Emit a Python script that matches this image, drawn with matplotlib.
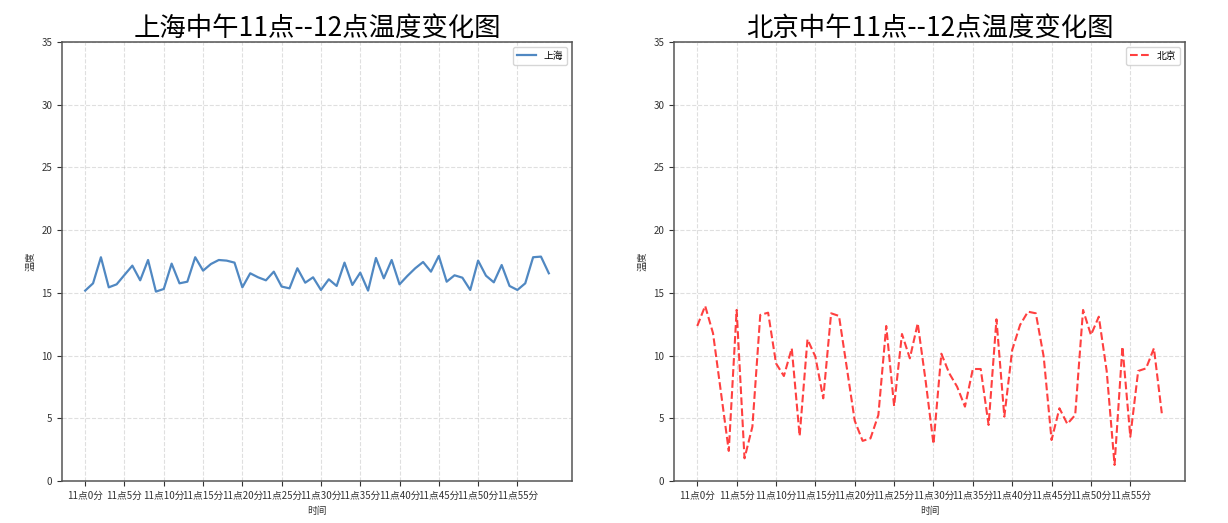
import matplotlib
matplotlib.use("Agg")
import matplotlib.pyplot as plt

plt.rcParams['font.family'] = ['Noto Sans CJK SC', 'DejaVu Sans']
plt.rcParams['axes.unicode_minus'] = False

minutes = list(range(60))
tick_labels = ["11点{}分".format(m) for m in minutes]

shanghai = [15.18, 15.76, 17.84, 15.44, 15.68, 16.43, 17.17, 16.0, 17.62, 15.1,
            15.31, 17.33, 15.76, 15.89, 17.84, 16.77, 17.3, 17.62, 17.57, 17.41,
            15.44, 16.56, 16.24, 16.0, 16.69, 15.5, 15.36, 16.96, 15.81, 16.24,
            15.23, 16.08, 15.55, 17.41, 15.63, 16.61, 15.18, 17.78, 16.16, 17.62,
            15.68, 16.35, 16.96, 17.46, 16.69, 17.94, 15.89, 16.4, 16.21, 15.23,
            17.57, 16.37, 15.84, 17.22, 15.55, 15.23, 15.76, 17.84, 17.89, 16.56]

beijing = [12.36, 13.96, 11.78, 7.1, 2.4, 13.64, 1.81, 4.33, 13.24, 13.42,
           9.38, 8.37, 10.58, 3.59, 11.3, 9.91, 6.59, 13.37, 13.16, 9.0,
           4.8, 3.2, 3.4, 5.26, 12.36, 5.98, 11.72, 9.78, 12.57, 8.0,
           2.95, 10.15, 8.59, 7.52, 5.93, 8.93, 8.93, 4.47, 12.89, 5.13,
           10.45, 12.44, 13.5, 13.37, 9.91, 3.27, 5.8, 4.55, 5.26, 13.64,
           11.64, 13.1, 8.77, 1.28, 10.71, 3.53, 8.77, 8.98, 10.58, 5.4]

fig = plt.figure(figsize=(12.28, 5.23), dpi=100)
ax1 = fig.add_axes([0.0505, 0.0803, 0.4153, 0.8394])
ax2 = fig.add_axes([0.5489, 0.0803, 0.4161, 0.8394])

ax1.plot(minutes, shanghai, color='#5088c2', linewidth=1.6, label='上海')
ax2.plot(minutes, beijing, color='red', linestyle='--', alpha=0.75, linewidth=1.5, label='北京')

for ax, title in [(ax1, '上海中午11点--12点温度变化图'), (ax2, '北京中午11点--12点温度变化图')]:
    ax.set_xticks(minutes[::5])
    ax.set_xticklabels(tick_labels[::5], fontsize=7)
    ax.set_yticks(range(0, 40, 5))
    ax.set_ylim(0, 35)
    ax.tick_params(axis='both', labelsize=7, colors='#333333')
    ax.grid(True, linestyle='--', alpha=0.4)
    for sp in ax.spines.values():
        sp.set_color('#555555')
        sp.set_linewidth(1.1)
    ax.set_xlabel('时间', fontsize=7, color='#333333')
    ax.set_ylabel('温度', fontsize=7, color='#333333')
    ax.set_title(title, fontsize=19, pad=4)
    ax.legend(loc='upper right', fontsize=7)

fig.savefig('out.png', dpi=100)
